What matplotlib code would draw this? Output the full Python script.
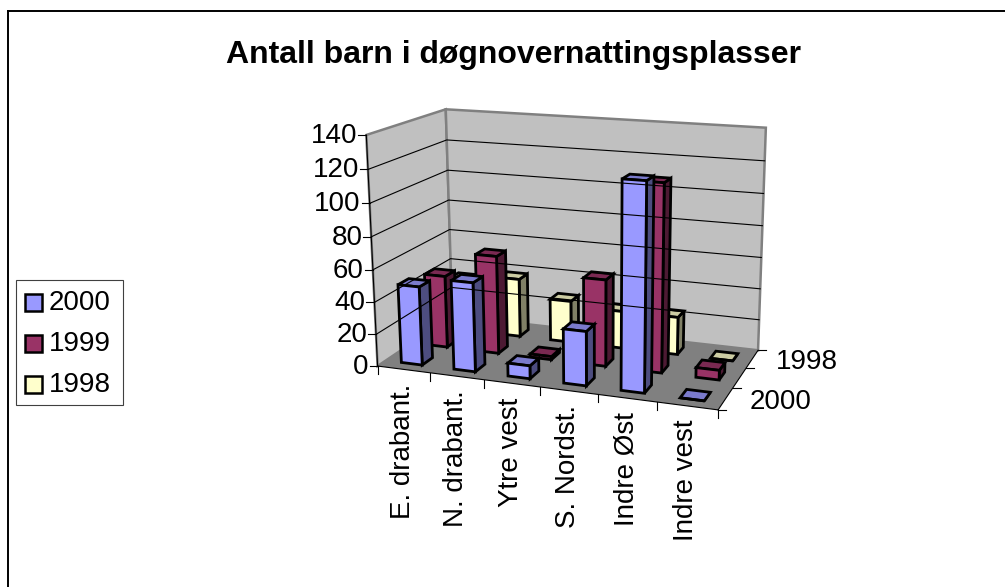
import numpy as np
import matplotlib
matplotlib.use("Agg")
import matplotlib.pyplot as plt
from matplotlib.patches import Polygon, Rectangle

plt.rcParams["font.family"] = ["Liberation Sans", "DejaVu Sans"]

W, H = 1005, 587

categories = ["E. drabant.", "N. drabant.", "Ytre vest", "S. Nordst.", "Indre Øst", "Indre vest"]
series_names = ["2000", "1999", "1998"]
values_2000 = [49, 55, 8, 33, 123, 0]
values_1999 = [46, 62, 2, 54, 115, 6]
values_1998 = [34, 38, 27, 24, 24, 0]
y_ticks = [0, 20, 40, 60, 80, 100, 120, 140]
depth_labels = ["2000", "", "1998"]

front_colors = ["#9999FF", "#993366", "#FFFFCC"]
top_colors = ["#7A7ACC", "#7A2952", "#CCCCA3"]
side_colors = ["#4D4D80", "#4D1A33", "#808066"]

# box corners on the picture, (x, y, z) in unit box -> pixels
corners = [
    ((0, 0, 0), (377, 365)),
    ((1, 0, 0), (718, 411)),
    ((1, 1, 0), (758, 349)),
    ((0, 1, 0), (453, 317)),
    ((0, 0, 1), (367, 135)),
    ((0, 1, 1), (445, 109)),
    ((1, 1, 1), (766, 128)),
]


def fit_camera(pairs):
    rows, rhs = [], []
    for (x, y, z), (u, v) in pairs:
        rows.append([x, y, z, 1, 0, 0, 0, 0, -u * x, -u * y, -u * z])
        rhs.append(u)
        rows.append([0, 0, 0, 0, x, y, z, 1, -v * x, -v * y, -v * z])
        rhs.append(v)
    p = np.linalg.lstsq(np.array(rows, float), np.array(rhs, float), rcond=None)[0]
    return np.append(p, 1.0).reshape(3, 4)


CAM = fit_camera(corners)


def proj(x, y, z):
    u, v, w = CAM @ np.array([x, y, z, 1.0])
    return u / w, v / w


def box_pt(cat, row, val):
    return proj(cat / len(categories), row / len(series_names), val / y_ticks[-1])


fig = plt.figure(figsize=(W / 100, H / 100), dpi=100)
ax = fig.add_axes([0, 0, 1, 1])
ax.set_xlim(0, W)
ax.set_ylim(H, 0)
ax.axis("off")


def face(pts, color, **kw):
    ax.add_patch(Polygon(pts, closed=True, facecolor=color, joinstyle="miter", **kw))


# chart frame
ax.plot([7.5, 7.5], [H, 10.5], color="black", lw=1.4)
ax.plot([7.5, W], [10.5, 10.5], color="black", lw=1.4)

# walls and floor
wall = dict(edgecolor="#808080", linewidth=1.8)
face([proj(0, 0, 0), proj(0, 1, 0), proj(0, 1, 1), proj(0, 0, 1)], "#C0C0C0", **wall)
face([proj(0, 1, 0), proj(1, 1, 0), proj(1, 1, 1), proj(0, 1, 1)], "#C0C0C0", **wall)
face([proj(0, 0, 0), proj(1, 0, 0), proj(1, 1, 0), proj(0, 1, 0)], "#808080", edgecolor="none")

# gridlines on both walls
zmax = y_ticks[-1]
for t in y_ticks[1:-1]:
    pts = [proj(0, 0, t / zmax), proj(0, 1, t / zmax), proj(1, 1, t / zmax)]
    ax.plot(*zip(*pts), color="black", lw=0.8, solid_joinstyle="miter")

# axis lines, ticks, labels
ax.plot(*zip(proj(0, 0, 0), proj(0, 0, 1)), color="black", lw=0.8)
ax.plot(*zip(proj(0, 0, 0), proj(1, 0, 0)), color="black", lw=0.8)
ax.plot(*zip(proj(1, 0, 0), proj(1, 1, 0)), color="black", lw=0.8)
FS = 20
for t in y_ticks:
    x0, y0 = proj(0, 0, t / zmax)
    ax.plot([x0 - 8, x0], [y0, y0], color="black", lw=0.8)
    ax.text(x0 - 9, y0 + 1, str(t), ha="right", va="center", fontsize=FS)
for i in range(len(categories) + 1):
    x0, y0 = box_pt(i, 0, 0)
    ax.plot([x0, x0], [y0, y0 + 8], color="black", lw=0.8)
for i, name in enumerate(categories):
    x0, y0 = box_pt(i + 0.5, 0, 0)
    ax.text(x0 - 1, y0 + 14, name, rotation=90, ha="center", va="top", fontsize=FS)
for i in range(len(series_names) + 1):
    x0, y0 = box_pt(len(categories), i, 0)
    ax.plot([x0, x0 + 8], [y0, y0], color="black", lw=0.8)
for i, name in enumerate(depth_labels):
    if name:
        x0, y0 = box_pt(len(categories), i + 0.5, 0)
        ax.text(x0 + 24, y0 + 3, name, ha="left", va="center", fontsize=FS)

# bars, back row first
GAP = 0.3
rows = [values_2000, values_1999, values_1998]
edge = dict(edgecolor="black", linewidth=2)
for r in [2, 1, 0]:
    for c, val in enumerate(rows[r]):
        x0, x1 = c + GAP, c + 1 - GAP
        y0, y1 = r + GAP, r + 1 - GAP
        face([box_pt(x1, y0, 0), box_pt(x1, y1, 0), box_pt(x1, y1, val), box_pt(x1, y0, val)], side_colors[r], **edge)
        face([box_pt(x0, y0, val), box_pt(x1, y0, val), box_pt(x1, y1, val), box_pt(x0, y1, val)], top_colors[r], **edge)
        face([box_pt(x0, y0, 0), box_pt(x1, y0, 0), box_pt(x1, y0, val), box_pt(x0, y0, val)], front_colors[r], **edge)

# legend
ax.add_patch(Rectangle((15.5, 279.5), 107, 125, fc="white", ec="#404040", lw=0.8))
for i, name in enumerate(series_names):
    yc = 302 + i * 41
    ax.add_patch(Rectangle((25, yc - 8.5), 17, 17, fc=front_colors[i], ec="black", lw=1.8))
    ax.text(49, yc + 1, name, ha="left", va="center", fontsize=FS)

ax.text(513, 54.5, "Antall barn i døgnovernattingsplasser", ha="center", va="center", fontsize=23, fontweight="bold")

fig.savefig("out.png", dpi=100)
